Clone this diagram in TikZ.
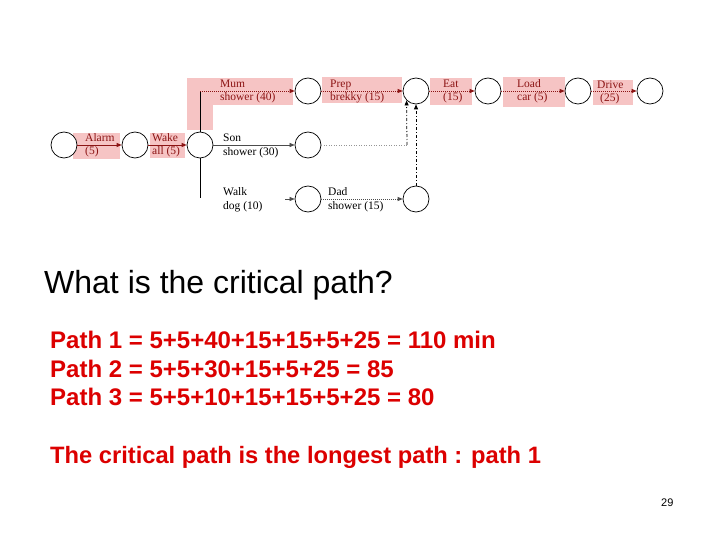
\documentclass[tikz,border=0pt]{standalone}
\usepackage{fontspec}
\setmainfont{Liberation Serif}
\newfontfamily\arialf{Liberation Sans}
\usetikzlibrary{arrows.meta}
\definecolor{pinkbg}{RGB}{246,196,196}
\definecolor{lblred}{RGB}{140,20,20}
\definecolor{txtred}{RGB}{220,0,0}
\definecolor{lgray}{RGB}{150,150,150}
\tikzset{
  evt/.style={circle,draw=black,line width=0.7pt,fill=white,minimum size=26pt,inner sep=0pt},
  tip/.style={-{Triangle[length=5pt,width=4pt]}},
  redsolid/.style={tip,draw=lblred,line width=0.7pt},
  reddot/.style={tip,draw=lblred,line width=0.7pt,dash pattern=on 1pt off 1pt},
  graysolid/.style={tip,draw=black!70,line width=0.6pt},
  graydot/.style={tip,draw=black!70,line width=0.7pt,dash pattern=on 1pt off 1pt},
  dashdot/.style={tip,draw=black,line width=0.8pt,dash pattern=on 3pt off 2pt on 1pt off 2pt},
  lbl/.style={anchor=base west,inner sep=0pt,font=\fontsize{11.5}{13}\selectfont},
  lblr/.style={lbl,text=lblred},
  big/.style={anchor=base west,inner sep=0pt,font=\arialf\fontsize{32}{38}\selectfont},
  pth/.style={anchor=base west,inner sep=0pt,text=txtred,font=\arialf\bfseries\fontsize{24}{28}\selectfont}
}
\begin{document}
\begin{tikzpicture}[x=1pt,y=-1pt]
\useasboundingbox (0,0) rectangle (720,540);
\fill[white] (0,0) rectangle (720,540);
% pink highlights
\fill[pinkbg] (73,133) rectangle (120,159);
\fill[pinkbg] (150,133) rectangle (185,158);
\fill[pinkbg] (187,78) rectangle (213,130);
\fill[pinkbg] (213,78) rectangle (293,105);
\fill[pinkbg] (322,77) rectangle (402,103);
\fill[pinkbg] (430,78) rectangle (472,105);
\fill[pinkbg] (503,77) rectangle (565,107);
\fill[pinkbg] (593,80) rectangle (633,105);
% events
\node[evt] (a) at (64,145) {};
\node[evt] (b) at (135,145) {};
\node[evt] (c) at (200,145) {};
\node[evt] (m) at (308,91) {};
\node[evt] (e) at (416,91) {};
\node[evt] (l) at (488,91) {};
\node[evt] (d) at (578,91) {};
\node[evt] (f) at (650,91) {};
\node[evt] (s) at (308,145) {};
\node[evt] (w) at (308,199) {};
\node[evt] (dd) at (416,199) {};
\coordinate (top) at (200,91);
\coordinate (bot) at (200,198);
\coordinate (wst) at (285,199);
\coordinate (sj) at (407,145);
% connectors
\draw[redsolid] (a) -- (b);
\draw[redsolid] (b) -- (c);
\draw[black,line width=1pt] (c.north) -- (top);
\draw[black,line width=1pt] (c.south) -- (bot);
\draw[reddot] (top) -- (m);
\draw[reddot] (m) -- (e);
\draw[reddot] (e) -- (l);
\draw[reddot] (l) -- (d);
\draw[reddot] (d) -- (f);
\draw[graysolid] (c) -- (s);
\draw[graysolid] (wst) -- (w);
\draw[graydot] (w) -- (dd);
\draw[lgray,line width=0.5pt,dash pattern=on 1pt off 1.5pt] (s) -- (sj);
\draw[dashdot] (sj) -- (e.south west);
\draw[dashdot] (dd.north) -- (e.south);
% labels
\node[lblr] at (85,142) {Alarm};
\node[lblr] at (85,155) {(5)};
\node[lblr] at (152,142) {Wake};
\node[lblr] at (152,155) {all (5)};
\node[lblr] at (220,88) {Mum};
\node[lblr] at (220,101) {shower (40)};
\node[lblr] at (330,88) {Prep};
\node[lblr] at (330,101) {brekky (15)};
\node[lblr] at (443,88) {Eat};
\node[lblr] at (443,101) {(15)};
\node[lblr] at (517,88) {Load};
\node[lblr] at (517,101) {car (5)};
\node[lblr] at (597,89) {Drive};
\node[lblr] at (600,102) {(25)};
\node[lbl] at (223,142) {Son};
\node[lbl] at (223,156) {shower (30)};
\node[lbl] at (223,196) {Walk};
\node[lbl] at (223,210) {dog (10)};
\node[lbl] at (328,196) {Dad};
\node[lbl] at (328,210) {shower (15)};
% text
\node[big] (q) at (44,293) {What is the critical path?};
\node[pth] (p1) at (50,348) {Path 1 = 5+5+40+15+15+5+25 = 110 min};
\node[pth] (p2) at (50,377) {Path 2 = 5+5+30+15+5+25 = 85};
\node[pth] (p3) at (50,405) {Path 3 = 5+5+10+15+15+5+25 = 80};
\node[pth,font=\arialf\bfseries\fontsize{23.7}{28}\selectfont] (cp) at (50,463) {The critical path is the longest path : path 1};
\node[anchor=base west,inner sep=0pt,font=\arialf\fontsize{11}{13}\selectfont] (pg) at (661,506) {29};
\end{tikzpicture}
\end{document}
